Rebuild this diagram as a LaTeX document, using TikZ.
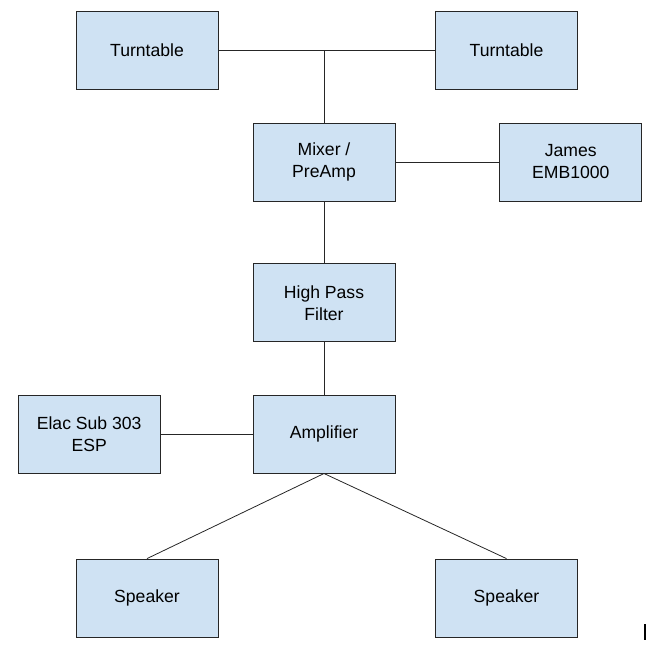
\documentclass[tikz,border=0pt]{standalone}
\usepackage{fontspec}
\setmainfont{Liberation Sans}
\usetikzlibrary{positioning}
\definecolor{boxblue}{HTML}{CFE2F3}

\begin{document}
\begin{tikzpicture}[
    x=1pt, y=-1pt,
    font=\fontsize{17.6}{22}\selectfont,
    line/.style={thick, black!85},
    unit/.style={
        draw=black!85, thick,
        fill=boxblue,
        minimum width=142pt,
        minimum height=78pt,
        align=center
    }
]
\useasboundingbox (0,0) rectangle (656,655);

% Sources
\node[unit] (ttL) at (147,50) {Turntable};
\node[unit] (ttR) at (506.5,50) {Turntable};

% Main chain
\node[unit] (mixer) at (324,162) {Mixer /\\PreAmp};
\node[unit, right=104pt of mixer] (james) {James\\EMB1000};
\node[unit, below=62pt of mixer] (hpf) {High Pass\\Filter};
\node[unit, below=52.5pt of hpf] (amp) {Amplifier};
\node[unit, left=92pt of amp] (elac) {Elac Sub 303\\ESP};

% Outputs
\node[unit] (spkL) at (147,598) {Speaker};
\node[unit] (spkR) at (506.5,598) {Speaker};

% Connectors
\draw[line] (ttL.east) -- (ttR.west);
\draw[line] (mixer.north) -- (mixer.north |- ttL.east);
\draw[line] (mixer.east) -- (james.west);
\draw[line] (mixer.south) -- (hpf.north);
\draw[line] (hpf.south) -- (amp.north);
\draw[line] (elac.east) -- (amp.west);
\draw[line] (amp.south) -- (spkL.north);
\draw[line] (amp.south) -- (spkR.north);

% cursor mark
\coordinate (cur) at (645,624);
\draw[line width=2pt] (cur) -- ++(0,16);

\end{tikzpicture}
\end{document}
